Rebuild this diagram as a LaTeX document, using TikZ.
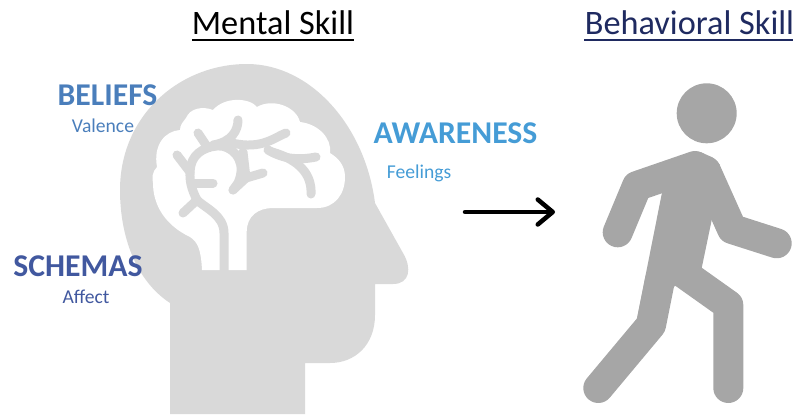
\documentclass[tikz,border=0pt]{standalone}
\usepackage{fontspec}
\setmainfont{Carlito}
\usepackage{tikz}
\usetikzlibrary{arrows.meta}
\definecolor{headgray}{HTML}{D9D9D9}
\definecolor{walkgray}{HTML}{A6A6A6}
\definecolor{beliefblue}{HTML}{4A7EBB}
\definecolor{schemablue}{HTML}{41589F}
\definecolor{awareblue}{HTML}{459CD6}
\definecolor{titlenavy}{HTML}{1F2A60}
\tikzstyle{title} = [anchor=base, inner sep=0, font=\fontsize{34.3}{34.3}\selectfont]
\tikzstyle{rule} = [line width=1.6]
\tikzstyle{skill} = [anchor=base, inner sep=0, font=\fontsize{31.7}{31.7}\selectfont\bfseries]
\tikzstyle{facet} = [anchor=base, inner sep=0, font=\fontsize{19.6}{19.6}\selectfont]
\tikzstyle{vein} = [headgray, line width=9, line cap=round, line join=round]
\tikzstyle{limb} = [walkgray, line width=30, line cap=round, line join=round]

\begin{document}
\begin{tikzpicture}[x=1pt, y=-1pt]
		\useasboundingbox (0,0) rectangle (803,415);
		
		% Head
		\path[fill=headgray] (247,64) .. controls (310,64) and (365,125) .. (375,203)
			-- (403,253) .. controls (412,268) and (410,284) .. (393,284)
			-- (375,284) -- (375,315) .. controls (375,345) and (355,363) .. (330,363)
			-- (305,363) -- (305,414) -- (170,414) -- (170,303)
			.. controls (135,280) and (120,235) .. (120,190)
			.. controls (120,115) and (180,64) .. (247,64) -- cycle;
		
		% Brain
		\path[fill=white] (246.7,270) -- (246.7,232) .. controls (246.7,216) and (258,208) .. (273,208)
			-- (317,208) .. controls (335,208) and (345,194) .. (345,177)
			.. controls (345,165) and (338,158) .. (330,153)
			.. controls (332,138) and (318,124) .. (300,122)
			.. controls (296,106) and (272,98) .. (257,107)
			.. controls (250,98) and (225,96) .. (213,110)
			.. controls (203,106) and (190,108) .. (186,118)
			.. controls (183,122) and (180,125) .. (180,130)
			.. controls (165,131) and (153,145) .. (157,167)
			.. controls (152,172) and (152,178) .. (153,183)
			.. controls (153,205) and (165,225) .. (190,237)
			.. controls (198,242) and (201,250) .. (202,270) -- cycle;
		
		% Veins
		\draw[vein, line cap=butt] (224,272) -- (224,233) .. controls (224,215) and (205,208) .. (197,200);
		\draw[vein] (197,200) .. controls (192,190) and (188,180) .. (191,165)
			.. controls (194,152) and (208,145) .. (222,146)
			.. controls (238,150) and (246,165) .. (238,183) -- (233,190);
		\draw[vein] (192,183) -- (213,183);
		\draw[vein] (197,200) -- (183,213);
		\draw[vein] (190,172) -- (177,155);
		\draw[vein] (208,148) -- (198,133);
		\draw[vein] (213,145) .. controls (232,142) and (238,130) .. (238,120);
		\draw[vein] (232,143) .. controls (262,150) and (275,137) .. (286,133);
		\draw[vein] (268,150) .. controls (285,160) and (300,160) .. (316,157);
		\draw[vein] (272,152) .. controls (300,160) and (312,175) .. (311,194);
		\draw[vein] (243,152) -- (246,178) -- (263,173);
		\draw[vein] (246,178) -- (233,190);
		
		% Walker
		\fill[walkgray] (706.7,113.3) circle (30);
		\fill[walkgray] (661.7,194) -- (680,160) -- (701.2,152.3) -- (712.2,157.3) -- (720,165) -- (711.7,220) -- (701.7,268)
			-- (674,286.7) -- (660,300) -- (636.5,321) -- cycle;
		\draw[limb] (617.7,232.3) -- (637,186) -- (695,166);
		\draw[limb] (776.7,243.3) -- (732,229) -- (706,171);
		\draw[limb] (728.3,388) -- (728.3,305) -- (680,270.7);
		\draw[limb] (598.3,388) -- (651,325) -- (660,280);
		
		% Arrow
		\coordinate (from) at (465,212);
		\coordinate (to) at (555,212);
		\draw[-{Straight Barb[round, length=15, width=25]}, line width=4.5, line cap=round] (from) -- (to);
		
		% Titles
		\node[title] (mental) at (273,34) {Mental Skill};
		\node[title, titlenavy] (behavioral) at (689.5,34) {Behavioral Skill};
		\coordinate (mentalL) at (192,40);
		\coordinate (mentalR) at (354,40);
		\coordinate (behavioralL) at (584,40);
		\coordinate (behavioralR) at (793,40);
		\draw[rule] (mentalL) -- (mentalR);
		\draw[rule, titlenavy] (behavioralL) -- (behavioralR);
		
		% Labels
		\node[skill, beliefblue] (beliefs) at (107.5,105) {BELIEFS};
		\node[facet, beliefblue] (valence) at (103,132) {Valence};
		\node[skill, schemablue] (schemas) at (78,276) {SCHEMAS};
		\node[facet, schemablue] (affect) at (86,303) {Affect};
		\node[skill, awareblue] (awareness) at (455.5,143) {AWARENESS};
		\node[facet, awareblue] (feelings) at (419,178) {Feelings};
	\end{tikzpicture}
\end{document}
